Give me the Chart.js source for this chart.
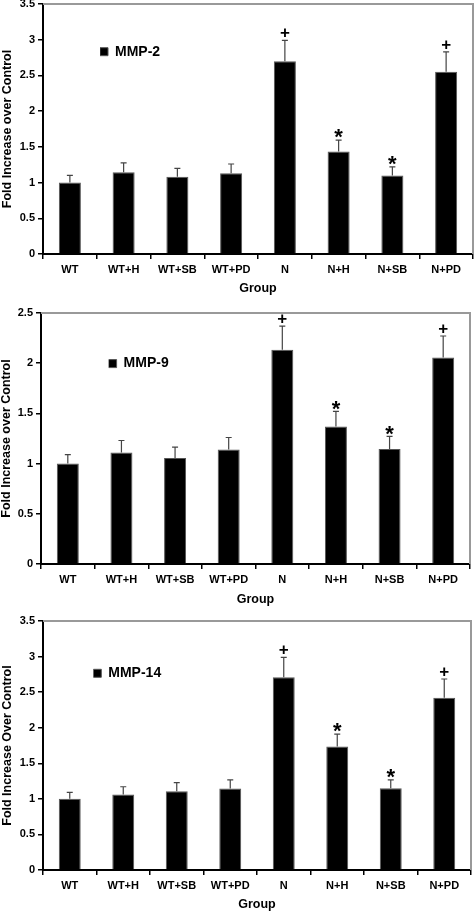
<!DOCTYPE html>
<html>
<head>
<meta charset="utf-8">
<script src="https://cdn.jsdelivr.net/npm/chart.js@4.4.0/dist/chart.umd.min.js"></script>
<style>
  html, body { margin: 0; padding: 0; background: #fff; }
  body { width: 475px; height: 913px; position: relative; overflow: hidden; }
  .panel { position: absolute; left: 0; width: 475px; }
</style>
</head>
<body>
<div class="panel" style="top:-16px;height:316px"><canvas id="mmp2Chart"></canvas></div>
<div class="panel" style="top:295px;height:317px"><canvas id="mmp9Chart"></canvas></div>
<div class="panel" style="top:605px;height:308px"><canvas id="mmp14Chart"></canvas></div>
<script>
// ── Data ──
const groups = ['WT', 'WT+H', 'WT+SB', 'WT+PD', 'N', 'N+H', 'N+SB', 'N+PD'];
const sigMarks = ['', '', '', '', '+', '*', '*', '+'];

const mmp2Values = [1.00, 1.145, 1.08, 1.13, 2.70, 1.435, 1.10, 2.55];
const mmp2Errors = [0.10, 0.13, 0.12, 0.13, 0.29, 0.16, 0.12, 0.28];

const mmp9Values = [1.00, 1.11, 1.055, 1.14, 2.135, 1.37, 1.146, 2.056];
const mmp9Errors = [0.09, 0.12, 0.11, 0.12, 0.235, 0.15, 0.125, 0.215];

const mmp14Values = [1.00, 1.06, 1.108, 1.146, 2.71, 1.735, 1.149, 2.42];
const mmp14Errors = [0.09, 0.11, 0.12, 0.12, 0.28, 0.175, 0.117, 0.265];

const FONT = "'Liberation Sans', Arial, sans-serif";

// ── Plugins ──
const errorBars = {
    id: 'errorBars',
    afterDatasetsDraw(chart) {
        const { ctx } = chart;
        const y = chart.scales.y;
        const ds = chart.data.datasets[0];
        const meta = chart.getDatasetMeta(0);
        ctx.save();
        meta.data.forEach((bar, i) => {
            const top = y.getPixelForValue(ds.data[i] + ds.errors[i]);
            ctx.strokeStyle = '#444';
            ctx.lineWidth = 1.2;
            ctx.beginPath();
            ctx.moveTo(bar.x, bar.y);
            ctx.lineTo(bar.x, top);
            ctx.moveTo(bar.x - 3, top);
            ctx.lineTo(bar.x + 3, top);
            ctx.stroke();

            const mark = ds.marks[i];
            if (mark) {
                const size = mark === '*' ? 22 : 17;
                ctx.font = `bold ${size}px ${FONT}`;
                ctx.fillStyle = '#000';
                ctx.textAlign = 'center';
                ctx.textBaseline = 'alphabetic';
                const centre = top - 8;
                ctx.fillText(mark, bar.x, centre + size * (mark === '*' ? 0.56 : 0.34));
            }
        });
        ctx.restore();
    }
};

const plotFrame = {
    id: 'plotFrame',
    beforeDatasetsDraw(chart) {
        const { ctx, chartArea: a } = chart;
        ctx.save();
        ctx.strokeStyle = '#999';
        ctx.lineWidth = 2;
        ctx.beginPath();
        ctx.moveTo(a.left, a.top);
        ctx.lineTo(a.right, a.top);
        ctx.lineTo(a.right, a.bottom);
        ctx.stroke();
        ctx.restore();
    }
};

// ── Chart factory ──
function makeChart(id, label, values, errors, yMax, yTitle, g) {
    const legendSpot = {
        id: 'legendSpot',
        afterLayout(chart) {
            const a = chart.chartArea;
            chart.legend.left = a.left + g.legendDx;
            chart.legend.top = a.top + g.legendDy;
        }
    };

    const tickFont = { family: FONT, size: 11, weight: 'bold' };
    const titleFont = { family: FONT, size: 12.5, weight: 'bold' };

    return new Chart(document.getElementById(id), {
        type: 'bar',
        data: {
            labels: groups,
            datasets: [{
                label: label,
                data: values,
                errors: errors,
                marks: sigMarks,
                backgroundColor: '#000',
                borderColor: '#555',
                borderWidth: 1,
                barPercentage: 0.41,
                categoryPercentage: 1.0,
            }]
        },
        options: {
            responsive: true,
            maintainAspectRatio: false,
            animation: false,
            layout: { padding: { top: g.top, right: 475 - g.right, left: 0, bottom: 0 } },
            plugins: {
                legend: {
                    position: 'chartArea',
                    align: 'start',
                    labels: {
                        padding: 0,
                        boxWidth: 8,
                        boxHeight: 8,
                        color: '#000',
                        font: { family: FONT, size: 14, weight: 'bold' }
                    }
                },
                tooltip: { enabled: false }
            },
            scales: {
                x: {
                    grid: { display: true, drawOnChartArea: false, drawTicks: true, tickLength: 5, color: '#000', lineWidth: 1.5, offset: true },
                    border: { display: true, color: '#000', width: 2 },
                    ticks: { color: '#000', font: tickFont, padding: 4.5, maxRotation: 0, autoSkip: false },
                    title: { display: true, text: 'Group', color: '#000', font: titleFont, padding: { top: 0, bottom: g.groupPad } },
                    afterFit: s => { s.height = g.xAxisH; }
                },
                y: {
                    min: 0,
                    max: yMax,
                    grid: { drawOnChartArea: false, drawTicks: true, tickLength: 5, color: '#000', lineWidth: 1.5 },
                    border: { display: true, color: '#000', width: 2 },
                    ticks: { stepSize: 0.5, color: '#000', font: tickFont, padding: 3, callback: v => `${v}` },
                    title: { display: true, text: yTitle, color: '#000', font: titleFont, padding: { top: g.yTitlePad, bottom: 0 } },
                    afterFit: s => { s.width = g.left; }
                }
            }
        },
        plugins: [plotFrame, errorBars, legendSpot]
    });
}

// ── Initialize ──
makeChart('mmp2Chart', 'MMP-2', mmp2Values, mmp2Errors, 3.5, 'Fold Increase over Control',
    { left: 43, right: 473, top: 20, xAxisH: 46, groupPad: 3.5, yTitlePad: 0.3, legendDx: 57, legendDy: 40.7 });

makeChart('mmp9Chart', 'MMP-9', mmp9Values, mmp9Errors, 2.5, 'Fold Increase over Control',
    { left: 41, right: 470, top: 18, xAxisH: 48, groupPad: 4.5, yTitlePad: -1.2, legendDx: 67.6, legendDy: 43.6 });

makeChart('mmp14Chart', 'MMP-14', mmp14Values, mmp14Errors, 3.5, 'Fold Increase Over Control',
    { left: 43, right: 471, top: 16, xAxisH: 43, groupPad: 0.5, yTitlePad: 0.3, legendDx: 50.3, legendDy: 45.3 });
</script>
</body>
</html>
